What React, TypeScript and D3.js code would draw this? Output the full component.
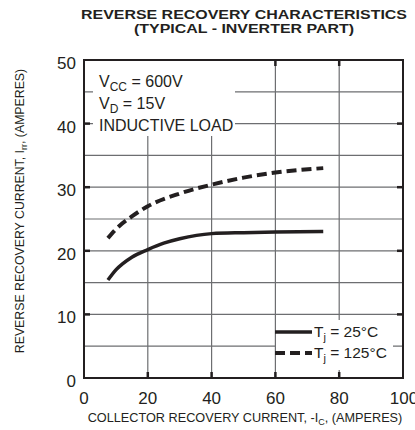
import { useEffect, useRef } from "react";
import * as d3 from "d3";

// curve points: [Ic (A), Irr (A)]
const tj25: [number, number][] = [
  [7.5, 15.4], [10, 17.0], [15, 19.0], [20, 20.2], [25, 21.2], [30, 21.9],
  [40, 22.7], [50, 22.85], [60, 22.95], [75, 23.05],
];
const tj125: [number, number][] = [
  [7.5, 22.0], [10, 23.4], [15, 25.4], [20, 27.0], [30, 29.0], [40, 30.4],
  [50, 31.5], [60, 32.3], [75, 33.0],
];
const xTicks = [0, 20, 40, 60, 80, 100];
const yTicks = [0, 10, 20, 30, 40, 50];
const yGrid = [5, 10, 15, 20, 25, 30, 35, 40, 45];
const xGrid = [20, 40, 60, 80];

const FONT = "'Liberation Sans', Arial, Helvetica, sans-serif";

const App = () => {
  const svgRef = useRef<SVGSVGElement | null>(null);

  useEffect(() => {
    const svg = d3.select(svgRef.current);
    svg.selectAll("*").remove();

    const left = 84, right = 403, top = 60, bottom = 378;
    const x = d3.scaleLinear().domain([0, 100]).range([left, right]);
    const y = d3.scaleLinear().domain([0, 50]).range([bottom, top]);

    // title
    const title = svg.append("text")
      .attr("text-anchor", "middle")
      .attr("font-family", FONT)
      .attr("font-weight", "bold")
      .attr("font-size", 13)
      .attr("fill", "#231f20");
    title.append("tspan").attr("x", 244).attr("y", 19)
      .attr("textLength", 326).attr("lengthAdjust", "spacingAndGlyphs")
      .text("REVERSE RECOVERY CHARACTERISTICS");
    title.append("tspan").attr("x", 244).attr("y", 33)
      .attr("textLength", 220).attr("lengthAdjust", "spacingAndGlyphs")
      .text("(TYPICAL - INVERTER PART)");

    // grid
    const grid = svg.append("g").attr("stroke", "#6d6e71").attr("stroke-width", 1.2);
    grid.selectAll("line.h").data(yGrid).enter().append("line")
      .attr("x1", left).attr("x2", right)
      .attr("y1", (d) => y(d)).attr("y2", (d) => y(d));
    grid.selectAll("line.v").data(xGrid).enter().append("line")
      .attr("y1", top).attr("y2", bottom)
      .attr("x1", (d) => x(d)).attr("x2", (d) => x(d));

    // inner ticks
    const ticks = svg.append("g").attr("stroke", "#231f20").attr("stroke-width", 2.5);
    const tk = 6;
    yTicks.slice(1, -1).forEach((v) => {
      ticks.append("line").attr("x1", left).attr("x2", left + tk).attr("y1", y(v)).attr("y2", y(v));
      ticks.append("line").attr("x1", right).attr("x2", right - tk).attr("y1", y(v)).attr("y2", y(v));
    });
    xTicks.slice(1, -1).forEach((v) => {
      ticks.append("line").attr("y1", top).attr("y2", top + tk).attr("x1", x(v)).attr("x2", x(v));
      ticks.append("line").attr("y1", bottom).attr("y2", bottom - tk).attr("x1", x(v)).attr("x2", x(v));
    });

    // white label boxes
    svg.append("rect").attr("x", 93).attr("y", 61).attr("width", 142).attr("height", 75).attr("fill", "#fff");
    svg.append("rect").attr("x", 276).attr("y", 320).attr("width", 117).attr("height", 50).attr("fill", "#fff");

    // frame
    svg.append("rect")
      .attr("x", left).attr("y", top)
      .attr("width", right - left).attr("height", bottom - top)
      .attr("fill", "none").attr("stroke", "#231f20").attr("stroke-width", 2);

    // curves
    const line = d3.line<[number, number]>()
      .x((d) => x(d[0])).y((d) => y(d[1]))
      .curve(d3.curveMonotoneX);
    svg.append("path").datum(tj25).attr("d", line)
      .attr("fill", "none").attr("stroke", "#231f20").attr("stroke-width", 3.5);
    svg.append("path").datum(tj125).attr("d", line)
      .attr("fill", "none").attr("stroke", "#231f20").attr("stroke-width", 4)
      .attr("stroke-dasharray", "10,5");

    // tick labels
    const lab = svg.append("g").attr("font-family", FONT).attr("font-size", 17).attr("fill", "#231f20");
    lab.selectAll("text.x").data(xTicks).enter().append("text")
      .attr("x", (d) => (d === 100 ? x(d) + 1 : x(d))).attr("y", 404)
      .attr("text-anchor", "middle").text((d) => d);
    lab.selectAll("text.y").data(yTicks).enter().append("text")
      .attr("x", 76).attr("y", (d) => y(d) + 9)
      .attr("text-anchor", "end").text((d) => d);

    // axis titles
    const xt = svg.append("text").attr("x", 245).attr("y", 422)
      .attr("text-anchor", "middle").attr("font-family", FONT)
      .attr("font-size", 12.7).attr("fill", "#231f20");
    xt.append("tspan").text("COLLECTOR RECOVERY CURRENT, -I");
    xt.append("tspan").attr("font-size", 9).attr("dy", 3).text("C");
    xt.append("tspan").attr("dy", -3).text(", (AMPERES)");

    const yt = svg.append("text")
      .attr("transform", "translate(24,211) rotate(-90)")
      .attr("text-anchor", "middle").attr("font-family", FONT)
      .attr("font-size", 12.3).attr("fill", "#231f20");
    yt.append("tspan").text("REVERSE RECOVERY CURRENT, I");
    yt.append("tspan").attr("font-size", 9).attr("dy", 3).text("rr");
    yt.append("tspan").attr("dy", -3).text(", (AMPERES)");

    // conditions
    const cond = svg.append("g").attr("font-family", FONT).attr("font-size", 16).attr("fill", "#231f20");
    const c1 = cond.append("text").attr("x", 99).attr("y", 87);
    c1.append("tspan").text("V");
    c1.append("tspan").attr("font-size", 12).attr("dy", 4).text("CC");
    c1.append("tspan").attr("dy", -4).text(" = 600V");
    const c2 = cond.append("text").attr("x", 99).attr("y", 109);
    c2.append("tspan").text("V");
    c2.append("tspan").attr("font-size", 12).attr("dy", 4).text("D");
    c2.append("tspan").attr("dy", -4).text(" = 15V");
    cond.append("text").attr("x", 99).attr("y", 131).text("INDUCTIVE LOAD");

    // legend
    const legend = [
      { label: "25°C", dash: null as string | null, w: 3.5 },
      { label: "125°C", dash: "10,5", w: 4 },
    ];
    legend.forEach((l, i) => {
      const ly = 332 + i * 21;
      svg.append("line").attr("x1", 275).attr("x2", 312).attr("y1", ly).attr("y2", ly)
        .attr("stroke", "#231f20").attr("stroke-width", l.w)
        .attr("stroke-dasharray", l.dash);
      const t = svg.append("text").attr("x", 314).attr("y", ly + 5)
        .attr("font-family", FONT).attr("font-size", 15.5).attr("fill", "#231f20");
      t.append("tspan").text("T");
      t.append("tspan").attr("font-size", 11).attr("dy", 4).text("j");
      t.append("tspan").attr("dy", -4).text(" = " + l.label);
    });
  }, []);

  return (
    <div style={{ position: "absolute", left: 0, top: 0 }}>
      <svg ref={svgRef} width={415} height={430} style={{ display: "block", background: "#fff" }} />
    </div>
  );
};

export default App;
